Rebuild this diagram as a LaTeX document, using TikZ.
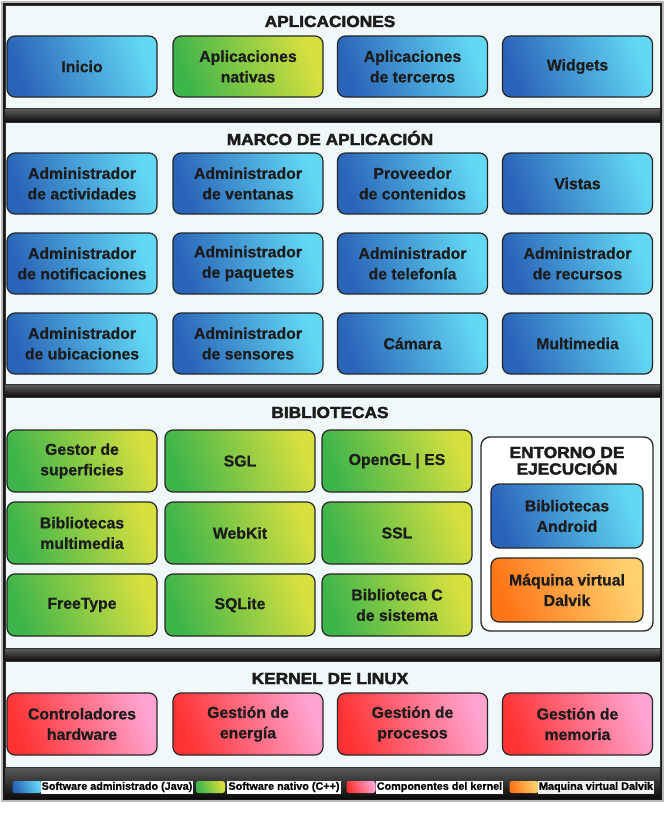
\documentclass[tikz,border=0pt]{standalone}
\usepackage{fontspec}
\setmainfont{Liberation Sans}
\newfontfamily\heavy[BoldFeatures={FakeBold=2.5,FakeStretch=1.08}]{Liberation Sans}
\newfontfamily\boxfont[BoldFeatures={FakeBold=0.8}]{Liberation Sans}
\definecolor{blueD}{HTML}{2A64B8}
\definecolor{blueL}{HTML}{62D8F4}
\definecolor{greenD}{HTML}{3DB54A}
\definecolor{greenL}{HTML}{D7E03F}
\definecolor{redD}{HTML}{FF3333}
\definecolor{redL}{HTML}{FFA3CF}
\definecolor{orangeD}{HTML}{FF7518}
\definecolor{orangeL}{HTML}{FFD26E}
\definecolor{panelc}{HTML}{F1F8FA}
\definecolor{txt}{HTML}{1C1C1C}
\tikzset{
  box/.style={draw=black!85, line width=1.2pt, rounded corners=8pt,
    minimum width=150pt, minimum height=61pt, align=center, inner sep=0pt,
    font=\boxfont\bfseries\fontsize{15.8}{20.5}\selectfont, text=txt},
  java/.style={box, bottom color=blueD, top color=blueL, shading angle=-70},
  native/.style={box, bottom color=greenD, top color=greenL, shading angle=-70},
  kern/.style={box, bottom color=redD, top color=redL, shading angle=-70},
  dalvik/.style={box, bottom color=orangeD, top color=orangeL, shading angle=-70},
  title/.style={anchor=base, font=\heavy\bfseries\fontsize{16}{14}\selectfont, text=txt, inner sep=0pt, align=center},
  panel/.style={fill=panelc, draw=black!80, line width=0.8pt},
  bar/.style={top color=black!62, bottom color=black!96},
  swatch/.style={rounded corners=2.5pt, minimum width=29pt, minimum height=12pt, inner sep=0pt},
  leglabel/.style={fill=white, minimum height=13pt, inner sep=1pt, text=black,
    font=\boxfont\bfseries\fontsize{10.8}{12}\selectfont}
}
\begin{document}
\begin{tikzpicture}[x=1pt,y=-1pt]
\useasboundingbox (0,0) rectangle (665,816);
\fill[white] (0,0) rectangle (665,816);
% outer frame
\draw[line width=1.5pt, draw=gray!55, fill=black!90] (2,2) rectangle (663,801);
% separating bars
\shade[bar] (5,108) rectangle (660,122);
\shade[bar] (5,384) rectangle (660,397);
\shade[bar] (5,648) rectangle (660,661);
\shade[top color=black!65, bottom color=black!95] (5,767) rectangle (660,798);
% panels
\draw[panel] (5,5) rectangle (660,108);
\draw[panel] (5,122) rectangle (660,384);
\draw[panel] (5,397) rectangle (660,648);
\draw[panel] (5,661) rectangle (660,767);

% ---------- APLICACIONES
\node[title] (tapp) at (330,27) {APLICACIONES};
\node[java]   (inicio)  at (82,66.5)   {Inicio};
\node[native] (nativas) at (248,66.5)  {Aplicaciones\\nativas};
\node[java]   (terc)    at (412.5,66.5){Aplicaciones\\de terceros};
\node[java]   (widg)    at (577.5,66.5){Widgets};

% ---------- MARCO
\node[title] (tmarco) at (330,145) {MARCO DE APLICACIÓN};
\node[java] (m11) at (82,183.5)    {Administrador\\de actividades};
\node[java] (m12) at (248,183.5)   {Administrador\\de ventanas};
\node[java] (m13) at (412.5,183.5) {Proveedor\\de contenidos};
\node[java] (m14) at (577.5,183.5) {Vistas};
\node[java] (m21) at (82,263.5)    {Administrador\\de notificaciones};
\node[java] (m22) at (248,263.5)   {Administrador\\de paquetes};
\node[java] (m23) at (412.5,263.5) {Administrador\\de telefonía};
\node[java] (m24) at (577.5,263.5) {Administrador\\de recursos};
\node[java] (m31) at (82,343.5)    {Administrador\\de ubicaciones};
\node[java] (m32) at (248,343.5)   {Administrador\\de sensores};
\node[java] (m33) at (412.5,343.5) {Cámara};
\node[java] (m34) at (577.5,343.5) {Multimedia};

% ---------- BIBLIOTECAS
\node[title] (tbib) at (330,418) {BIBLIOTECAS};
\node[native, minimum height=62pt] (b11) at (82,461)  {Gestor de\\superficies};
\node[native, minimum height=62pt] (b12) at (240,461) {SGL};
\node[native, minimum height=62pt] (b13) at (397,461) {OpenGL | ES};
\node[native, minimum height=62pt] (b21) at (82,533)  {Bibliotecas\\multimedia};
\node[native, minimum height=62pt] (b22) at (240,533) {WebKit};
\node[native, minimum height=62pt] (b23) at (397,533) {SSL};
\node[native, minimum height=62pt] (b31) at (82,605)  {FreeType};
\node[native, minimum height=62pt] (b32) at (240,605) {SQLite};
\node[native, minimum height=62pt] (b33) at (397,605) {Biblioteca C\\de sistema};

% runtime
\node[draw=black!85, line width=1.3pt, fill=white!96!panelc, rounded corners=9pt,
      minimum width=172pt, minimum height=194pt, inner sep=0pt] (rt) at (567,534) {};
\node[title] (trt1) at (567,458) {ENTORNO DE};
\node[title] (trt2) at (567,474.5) {EJECUCIÓN};
\node[java, minimum width=152pt, minimum height=64pt] (andlib) at (567,516) {Bibliotecas\\Android};
\node[dalvik, minimum width=152pt, minimum height=64pt] (dvm) at (567,590) {Máquina virtual\\Dalvik};

% ---------- KERNEL
\node[title] (tker) at (330,684) {KERNEL DE LINUX};
\node[kern, minimum height=62pt] (k1) at (82,724)    {Controladores\\hardware};
\node[kern, minimum height=62pt] (k2) at (248,724)   {Gestión de\\energía};
\node[kern, minimum height=62pt] (k3) at (412.5,724) {Gestión de\\procesos};
\node[kern, minimum height=62pt] (k4) at (577.5,724) {Gestión de\\memoria};

% ---------- LEGEND
\node[swatch, bottom color=blueD, top color=blueL, shading angle=-70] (s1) at (27,787) {};
\node[leglabel, minimum width=150pt] (l1) at (117,787) {Software administrado (Java)};
\node[swatch, bottom color=greenD, top color=greenL, shading angle=-70] (s2) at (210.5,787) {};
\node[leglabel, minimum width=112pt] (l2) at (284,787) {Software nativo (C++)};
\node[swatch, bottom color=redD, top color=redL, shading angle=-70] (s3) at (361,787) {};
\node[leglabel, minimum width=123pt] (l3) at (439.5,787) {Componentes del kernel};
\node[swatch, bottom color=orangeD, top color=orangeL, shading angle=-70] (s4) at (524,787) {};
\node[leglabel, fill=gray!12, minimum width=110pt] (l4) at (596,787) {Maquina virtual Dalvik};
\end{tikzpicture}
\end{document}
